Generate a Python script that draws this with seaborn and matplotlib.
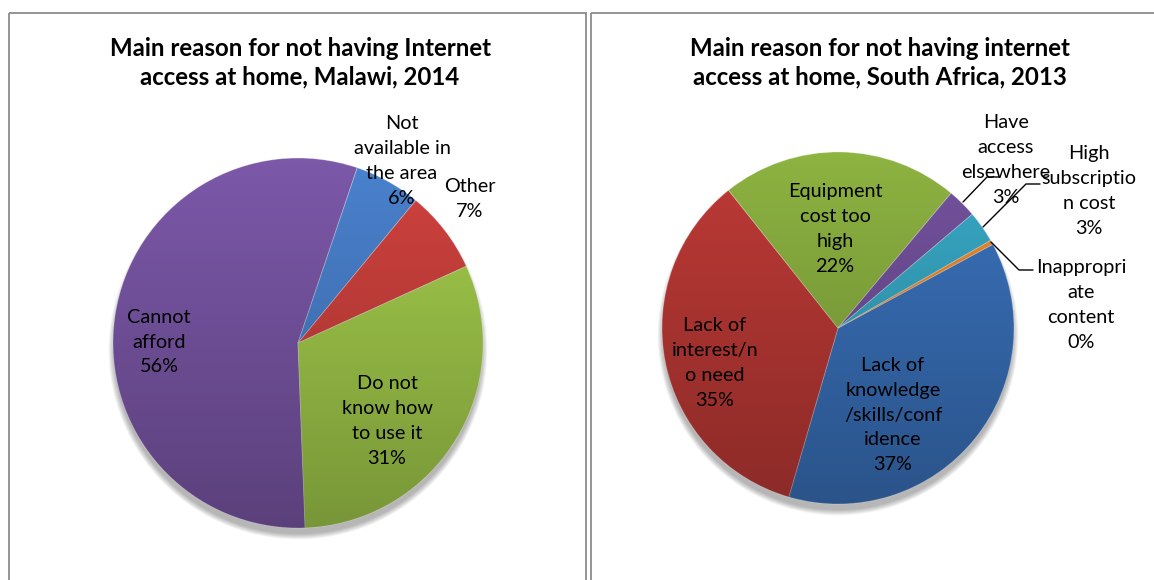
import numpy as np
import matplotlib
matplotlib.use("Agg")
import matplotlib.pyplot as plt
from matplotlib.patches import Circle, Rectangle
import seaborn as sns

# ---- data -------------------------------------------------------------
malawi_title = "Main reason for not having Internet\naccess at home, Malawi, 2014"
malawi_labels = ["Cannot\nafford", "Not\navailable in\nthe area", "Other",
                 "Do not\nknow how\nto use it"]
malawi_values = [55.8, 5.8, 7.2, 31.2]
malawi_colors = ["#7C58A9", "#4A82CE", "#D0423E", "#A4CD4C"]

sa_title = "Main reason for not having internet\naccess at home, South Africa, 2013"
sa_labels = ["Lack of\nknowledge\n/skills/conf\nidence", "Lack of\ninterest/n\no need",
             "Equipment\ncost too\nhigh", "Have\naccess\nelsewhere",
             "High\nsubscriptio\nn cost", "Inappropri\nate\ncontent"]
sa_values = [37.4, 34.8, 21.8, 2.7, 2.9, 0.4]
sa_colors = ["#3A72BC", "#BE3A36", "#8DB341", "#74529E", "#38A9C6", "#F08A2C"]

sns.set_theme(style="white")
plt.rcParams["font.family"] = ["Lato", "DejaVu Sans"]

W, H = 1154, 580
fig = plt.figure(figsize=(W / 100, H / 100), dpi=100)
ax = fig.add_axes([0, 0, 1, 1])

# panel frames
for x0, x1 in [(9, 586), (591, 1170)]:
    ax.add_patch(Rectangle((x0, 13), x1 - x0, 600, fill=False,
                           edgecolor="#8c8c8c", lw=1.3, zorder=1))


def shaded_pie(values, colors, center, radius, startangle):
    cx, cy = center
    # soft drop shadow under the lower rim of the disc
    for k in range(10):
        ax.add_patch(Circle((cx, cy + 7), radius - 1 + k * 0.6, color="black",
                            alpha=0.03, lw=0, zorder=2))
    wedges, _ = ax.pie(values, colors=colors, center=center, radius=radius,
                       startangle=startangle, counterclock=True,
                       wedgeprops=dict(edgecolor=(1, 1, 1, 0.35), lw=0.6),
                       frame=True)
    for w in wedges:
        w.set_zorder(3)
    # vertical light-to-dark gradient over the disc
    n = 256
    grad = np.zeros((n, 1, 4))
    grad[:, 0, 3] = np.linspace(0.0, 0.27, n)
    img = ax.imshow(grad, extent=(cx - radius, cx + radius, cy + radius, cy - radius),
                    aspect="auto", zorder=4, interpolation="bilinear")
    img.set_clip_path(Circle((cx, cy), radius, transform=ax.transData))
    return wedges


shaded_pie(malawi_values, malawi_colors, (298, 343), 185, 87.8)
shaded_pie(sa_values, sa_colors, (838, 328), 176, -28.4)
ax.set_xlim(0, W)
ax.set_ylim(H, 0)
ax.set_aspect("equal")
ax.axis("off")

# titles
title_kw = dict(ha="center", va="center", fontsize=17.3, fontweight="bold",
                color="black", linespacing=1.3, zorder=6)
ax.text(300, 63, malawi_title, **title_kw)
ax.text(880, 63, sa_title, **title_kw)

# data labels
lab_kw = dict(ha="center", va="center", fontsize=14.3, color="black",
              linespacing=1.55, zorder=6)
malawi_pos = [(159, 342), (402, 161), (470, 199), (387, 421)]
for name, v, (x, y) in zip(malawi_labels, malawi_values, malawi_pos):
    ax.text(x, y, f"{name}\n{v:.0f}%", **lab_kw)

sa_pos = [(893, 415), (715, 363), (835, 229), (1006, 160), (1089, 191), (1081, 305)]
for name, v, (x, y) in zip(sa_labels, sa_values, sa_pos):
    ax.text(x, y, f"{name}\n{v:.0f}%", **lab_kw)

# leader lines for the thin slices
leaders = [[(963, 202), (987, 177), (999, 177)],
           [(983, 227), (1026, 184), (1040, 184)],
           [(991, 242), (1019, 270), (1033, 270)]]
for pts in leaders:
    xs, ys = zip(*pts)
    ax.plot(xs, ys, color="black", lw=1.0, zorder=5)

fig.savefig("out.png", dpi=100)
